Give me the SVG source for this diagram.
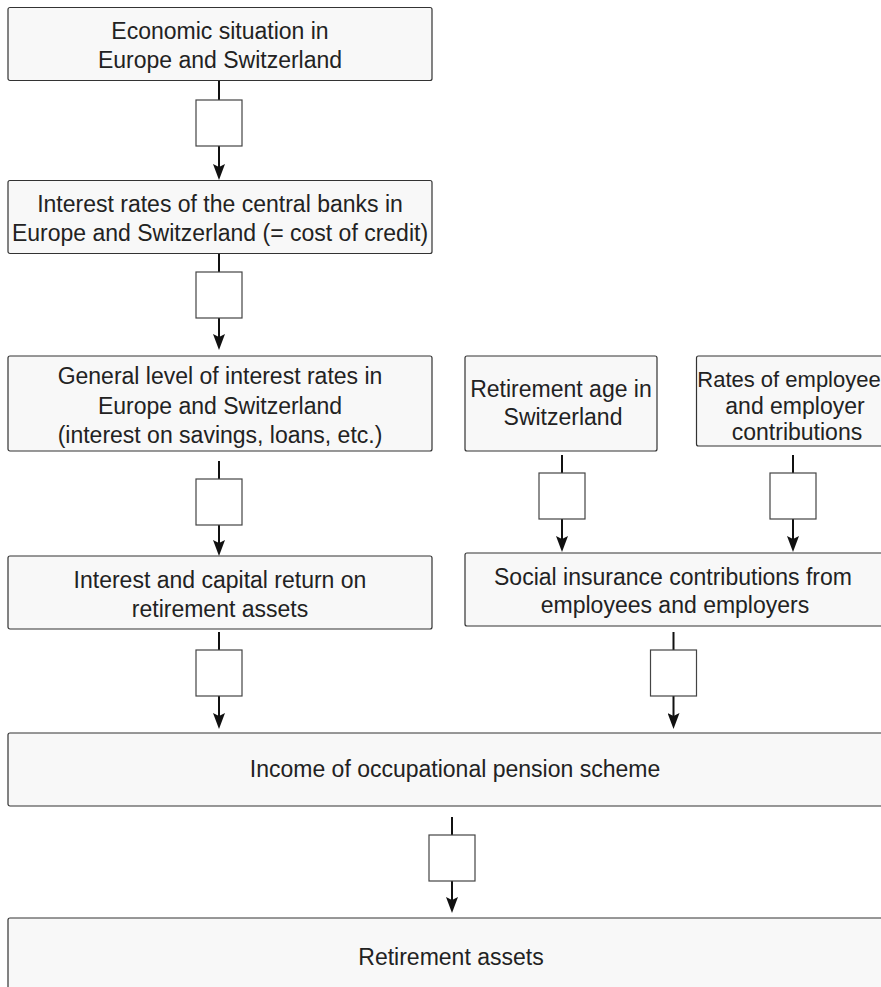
<svg xmlns="http://www.w3.org/2000/svg" width="881" height="987" viewBox="0 0 881 987">
<style>
.box{fill:#f8f8f8;stroke:#333;stroke-width:1.2}
.lbl{font-family:"Liberation Sans",Arial,sans-serif;font-size:23px;fill:#222;text-anchor:middle}
.edge{fill:none;stroke:#111;stroke-width:2;marker-end:url(#ah)}
.sq{fill:#fff;stroke:#444;stroke-width:1.2}
</style>
<defs>
<marker id="ah" markerUnits="userSpaceOnUse" viewBox="0 0 16 12" refX="12" refY="6" markerWidth="16" markerHeight="12" orient="auto">
<path d="M0,0 L16,6 L0,12 L3,6 z" fill="#111"/>
</marker>
</defs>
<rect width="881" height="987" fill="#fff"/>
<g id="connectors">
<path class="edge" d="M219,81 V176"/>
<path class="edge" d="M219,253 V346"/>
<path class="edge" d="M219,461 V552"/>
<path class="edge" d="M219,632 V725"/>
<path class="edge" d="M562,455 V548"/>
<path class="edge" d="M793,455 V548"/>
<path class="edge" d="M673.5,632 V725"/>
<path class="edge" d="M452,817 V909"/>
<rect class="sq" x="196" y="100" width="46" height="46"/>
<rect class="sq" x="196" y="272" width="46" height="46"/>
<rect class="sq" x="196" y="479" width="46" height="46"/>
<rect class="sq" x="196" y="650" width="46" height="46"/>
<rect class="sq" x="539" y="473" width="46" height="46"/>
<rect class="sq" x="770" y="473" width="46" height="46"/>
<rect class="sq" x="650.5" y="650" width="46" height="46"/>
<rect class="sq" x="429" y="835" width="46" height="46"/>
</g>
<g id="n1">
<rect class="box" x="8" y="7.5" width="424" height="73" rx="2"/>
<text class="lbl" x="220" y="39">Economic situation in</text>
<text class="lbl" x="220" y="68">Europe and Switzerland</text>
</g>
<g id="n2">
<rect class="box" x="8" y="180.5" width="424" height="73" rx="2"/>
<text class="lbl" x="220" y="212">Interest rates of the central banks in</text>
<text class="lbl" x="220" y="241">Europe and Switzerland (= cost of credit)</text>
</g>
<g id="n3">
<rect class="box" x="8" y="356" width="424" height="95" rx="2"/>
<text class="lbl" x="220" y="384">General level of interest rates in</text>
<text class="lbl" x="220" y="413.5">Europe and Switzerland</text>
<text class="lbl" x="220" y="443">(interest on savings, loans, etc.)</text>
</g>
<g id="n4">
<rect class="box" x="8" y="556" width="424" height="73" rx="2"/>
<text class="lbl" x="220" y="588">Interest and capital return on</text>
<text class="lbl" x="220" y="617">retirement assets</text>
</g>
<g id="n5">
<rect class="box" x="465" y="356" width="192" height="95" rx="2"/>
<text class="lbl" x="561" y="397">Retirement age in</text>
<text class="lbl" x="563" y="425">Switzerland</text>
</g>
<g id="n6">
<rect class="box" x="696.5" y="356" width="196" height="90" rx="2"/>
<text class="lbl" x="789" y="387" style="font-size:22px">Rates of employee</text>
<text class="lbl" x="795" y="414">and employer</text>
<text class="lbl" x="797" y="440">contributions</text>
</g>
<g id="n7">
<rect class="box" x="465" y="553" width="418" height="73" rx="2"/>
<text class="lbl" x="673" y="585">Social insurance contributions from</text>
<text class="lbl" x="675" y="613">employees and employers</text>
</g>
<g id="n8">
<rect class="box" x="8" y="733" width="893" height="73" rx="2"/>
<text class="lbl" x="455" y="777">Income of occupational pension scheme</text>
</g>
<g id="n9">
<rect class="box" x="8" y="918" width="888" height="90" rx="2"/>
<text class="lbl" x="451" y="965">Retirement assets</text>
</g>
</svg>
